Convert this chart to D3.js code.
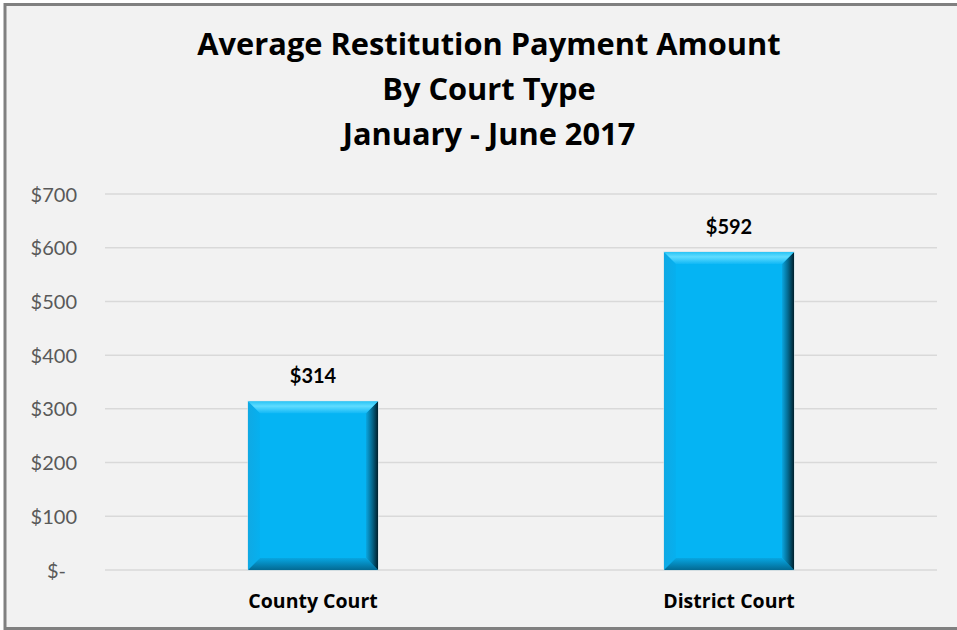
<!DOCTYPE html>
<html>
<head>
<meta charset="utf-8">
<script src="https://cdn.jsdelivr.net/npm/d3@7/dist/d3.min.js"></script>
<style>
  body { margin: 0; background: #fff; }
  svg { display: block; }
</style>
</head>
<body>
<div id="chart"></div>
<script>
var courts = ["County Court", "District Court"];
var payments = [314, 592];
var yTicks = [0, 100, 200, 300, 400, 500, 600, 700];
var titleLines = ["Average Restitution Payment Amount", "By Court Type", "January - June 2017"];

var width = 957, height = 630;
var plotLeft = 105, plotRight = 937, plotTop = 194, plotBottom = 570;
var bevel = 12;

var svg = d3.select("#chart")
    .append("svg")
    .attr("width", width)
    .attr("height", height);

// chart area + border
svg.append("rect")
    .attr("x", 0).attr("y", 0)
    .attr("width", width).attr("height", height)
    .attr("fill", "#ffffff");
svg.append("rect")
    .attr("x", 5).attr("y", 4.5)
    .attr("width", width + 10).attr("height", height - 6)
    .attr("fill", "#f2f2f2")
    .attr("stroke", "#808080")
    .attr("stroke-width", 3);

var defs = svg.append("defs");
function grad(id, x2, y2, stops) {
    var g = defs.append("linearGradient").attr("id", id)
        .attr("x1", 0).attr("y1", 0).attr("x2", x2).attr("y2", y2);
    stops.forEach(function (s) {
        g.append("stop").attr("offset", s[0]).attr("stop-color", s[1]);
    });
}
grad("bevTop", 0, 1, [[0, "#2ac4f5"], [0.4, "#5fdcff"], [1, "#10b8f6"]]);
grad("bevRight", 1, 0, [[0, "#0aa6e0"], [0.5, "#04698f"], [1, "#00202c"]]);
grad("bevBottom", 0, 1, [[0, "#07a6e2"], [1, "#036a93"]]);
grad("bevLeft", 1, 0, [[0, "#0fa9e4"], [1, "#06b0ef"]]);

var x = d3.scaleBand()
    .domain(courts)
    .range([plotLeft, plotRight])
    .paddingInner(0.6875)
    .paddingOuter(0.34375);

var y = d3.scaleLinear()
    .domain([0, 700])
    .range([plotBottom, plotTop]);

// gridlines
svg.append("g")
    .selectAll("line")
    .data(yTicks)
    .enter()
    .append("line")
        .attr("x1", plotLeft).attr("x2", plotRight)
        .attr("y1", function (d) { return y(d); })
        .attr("y2", function (d) { return y(d); })
        .attr("stroke", "#d9d9d9")
        .attr("stroke-width", 1.5);

// y axis labels
var yAxis = d3.axisLeft(y)
    .tickValues(yTicks)
    .tickSize(0)
    .tickPadding(0)
    .tickFormat(function (d) { return d === 0 ? "$-" : "$" + d; });

var yg = svg.append("g")
    .attr("transform", "translate(77,0)")
    .call(yAxis);
yg.select(".domain").remove();
yg.selectAll("text")
    .attr("font-family", "Lato, 'Open Sans', sans-serif")
    .attr("font-size", "20px")
    .attr("fill", "#595959")
    .attr("dy", "0.35em")
    .attr("dx", function (d) { return d === 0 ? -11 : 0; });

// bars with bevel
var bars = svg.append("g")
    .selectAll("g")
    .data(courts.map(function (c, i) { return { court: c, value: payments[i] }; }))
    .enter()
    .append("g");

bars.append("rect")
    .attr("x", function (d) { return x(d.court); })
    .attr("y", function (d) { return y(d.value); })
    .attr("width", x.bandwidth())
    .attr("height", function (d) { return y(0) - y(d.value); })
    .attr("fill", "#05b4f3")
    .attr("stroke", "#c8dde6")
    .attr("stroke-width", 1);

function pts(arr) { return arr.map(function (p) { return p.join(","); }).join(" "); }

bars.each(function (d) {
    var g = d3.select(this);
    var x0 = x(d.court), x1 = x0 + x.bandwidth();
    var y0 = y(d.value), y1 = y(0);
    g.append("polygon").attr("fill", "url(#bevLeft)")
        .attr("points", pts([[x0, y0], [x0 + bevel, y0 + bevel], [x0 + bevel, y1 - bevel], [x0, y1]]));
    g.append("polygon").attr("fill", "url(#bevBottom)")
        .attr("points", pts([[x0, y1], [x0 + bevel, y1 - bevel], [x1 - bevel, y1 - bevel], [x1, y1]]));
    g.append("polygon").attr("fill", "url(#bevRight)")
        .attr("points", pts([[x1, y0], [x1 - bevel, y0 + bevel], [x1 - bevel, y1 - bevel], [x1, y1]]));
    g.append("polygon").attr("fill", "url(#bevTop)")
        .attr("points", pts([[x0, y0], [x0 + bevel, y0 + bevel], [x1 - bevel, y0 + bevel], [x1, y0]]));
});

// value labels
bars.append("text")
    .attr("x", function (d) { return x(d.court) + x.bandwidth() / 2; })
    .attr("y", function (d) { return y(d.value) - 18; })
    .attr("text-anchor", "middle")
    .attr("font-family", "Lato, 'Open Sans', sans-serif")
    .attr("font-weight", "bold")
    .attr("font-size", "20px")
    .attr("fill", "#000")
    .text(function (d) { return "$" + d.value; });

// x axis labels
var xAxis = d3.axisBottom(x).tickSize(0).tickPadding(0);
var xg = svg.append("g")
    .attr("transform", "translate(0,608)")
    .call(xAxis);
xg.select(".domain").remove();
xg.selectAll("text")
    .attr("dy", 0)
    .attr("font-family", "'Open Sans', Lato, sans-serif")
    .attr("font-weight", "bold")
    .attr("font-size", "19.5px")
    .attr("fill", "#000");

// title
svg.append("g")
    .selectAll("text")
    .data(titleLines)
    .enter()
    .append("text")
        .attr("x", 489)
        .attr("y", function (d, i) { return 55 + i * 45; })
        .attr("text-anchor", "middle")
        .attr("font-family", "'Open Sans', Lato, sans-serif")
        .attr("font-weight", "bold")
        .attr("font-size", "30.8px")
        .attr("fill", "#000")
        .text(function (d) { return d; });
</script>
</body>
</html>
